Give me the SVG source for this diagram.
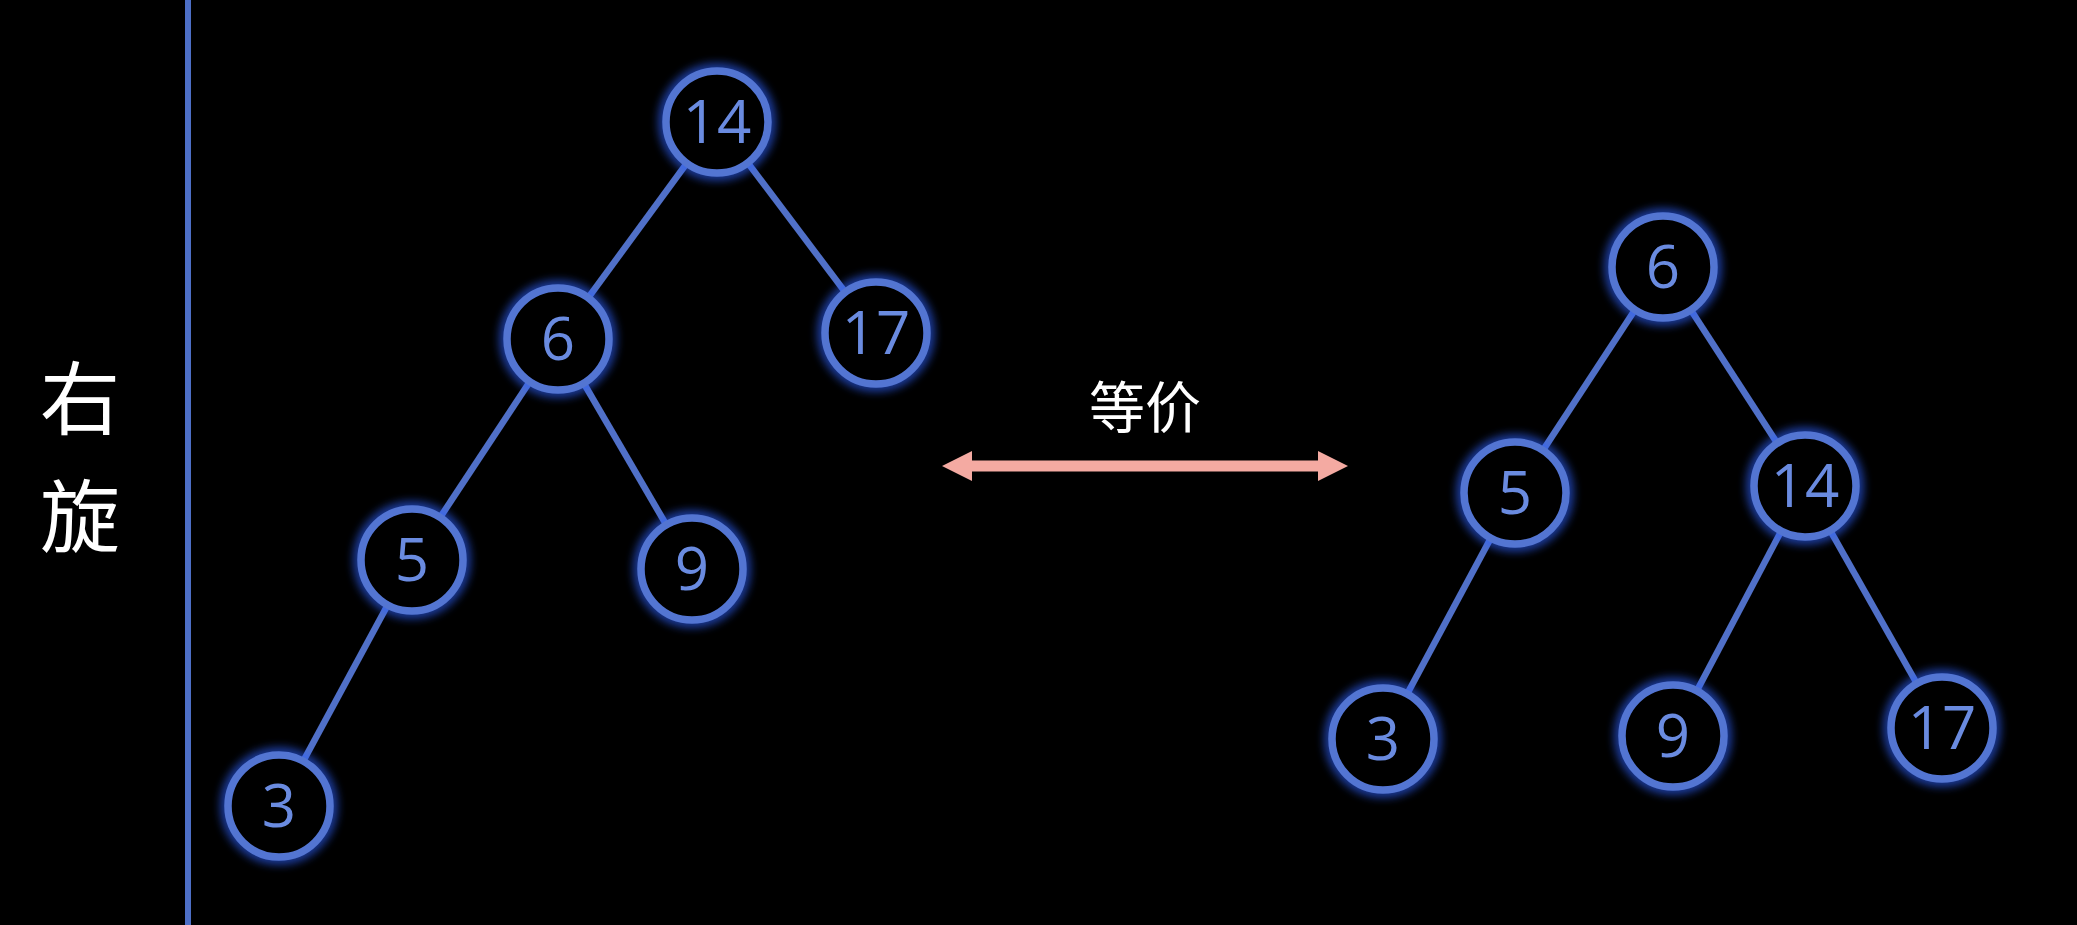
<svg xmlns="http://www.w3.org/2000/svg" width="2077" height="925" viewBox="0 0 2077 925">
<defs>
<style>
.edge{stroke:#5070c8;stroke-width:6.5;fill:none}
.ring{fill:#000;stroke:#5375d2;stroke-width:7.5}
.glow{fill:none;stroke:#2f62ff;stroke-width:16;opacity:0.6}
.num{font-family:"Open Sans",Lato,"Noto Sans",sans-serif;font-size:60px;fill:#6a8be0;text-anchor:middle}
.cjk{font-family:"Noto Sans CJK SC",sans-serif;fill:#ffffff;text-anchor:middle}
</style>
<filter id="blur" x="-50%" y="-50%" width="200%" height="200%"><feGaussianBlur stdDeviation="4.5"/></filter>
</defs>
<rect width="2077" height="925" fill="#000"/>
<line x1="188" y1="0" x2="188" y2="925" stroke="#4d6fc6" stroke-width="6"/>
<text class="cjk" x="80" y="428" font-size="80">右</text>
<text class="cjk" x="80" y="546" font-size="80">旋</text>
<g id="connectors">
<line class="edge" x1="717" y1="122" x2="558" y2="339"/>
<line class="edge" x1="717" y1="122" x2="876" y2="333"/>
<line class="edge" x1="558" y1="339" x2="412" y2="560"/>
<line class="edge" x1="558" y1="339" x2="692" y2="569"/>
<line class="edge" x1="412" y1="560" x2="279" y2="806"/>
<line class="edge" x1="1663" y1="267" x2="1515" y2="493"/>
<line class="edge" x1="1663" y1="267" x2="1805" y2="486"/>
<line class="edge" x1="1515" y1="493" x2="1383" y2="739"/>
<line class="edge" x1="1805" y1="486" x2="1673" y2="736"/>
<line class="edge" x1="1805" y1="486" x2="1942" y2="728"/>
<g id="equiv">
<path d="M962,466 H1328" stroke="#f4aaa2" stroke-width="11"/>
<path d="M942,466 L972,451 L972,481 z M1348,466 L1318,451 L1318,481 z" fill="#f4aaa2"/>
</g>
</g>
<text class="cjk" x="1145" y="428" font-size="56">等价</text>
<g id="L14"><circle class="glow" filter="url(#blur)" cx="717" cy="122" r="51"/><circle class="ring" cx="717" cy="122" r="51"/><text class="num" x="717" y="143">14</text></g>
<g id="L6"><circle class="glow" filter="url(#blur)" cx="558" cy="339" r="51"/><circle class="ring" cx="558" cy="339" r="51"/><text class="num" x="558" y="360">6</text></g>
<g id="L17"><circle class="glow" filter="url(#blur)" cx="876" cy="333" r="51"/><circle class="ring" cx="876" cy="333" r="51"/><text class="num" x="876" y="354">17</text></g>
<g id="L5"><circle class="glow" filter="url(#blur)" cx="412" cy="560" r="51"/><circle class="ring" cx="412" cy="560" r="51"/><text class="num" x="412" y="581">5</text></g>
<g id="L9"><circle class="glow" filter="url(#blur)" cx="692" cy="569" r="51"/><circle class="ring" cx="692" cy="569" r="51"/><text class="num" x="692" y="590">9</text></g>
<g id="L3"><circle class="glow" filter="url(#blur)" cx="279" cy="806" r="51"/><circle class="ring" cx="279" cy="806" r="51"/><text class="num" x="279" y="827">3</text></g>
<g id="R6"><circle class="glow" filter="url(#blur)" cx="1663" cy="267" r="51"/><circle class="ring" cx="1663" cy="267" r="51"/><text class="num" x="1663" y="288">6</text></g>
<g id="R5"><circle class="glow" filter="url(#blur)" cx="1515" cy="493" r="51"/><circle class="ring" cx="1515" cy="493" r="51"/><text class="num" x="1515" y="514">5</text></g>
<g id="R14"><circle class="glow" filter="url(#blur)" cx="1805" cy="486" r="51"/><circle class="ring" cx="1805" cy="486" r="51"/><text class="num" x="1805" y="507">14</text></g>
<g id="R3"><circle class="glow" filter="url(#blur)" cx="1383" cy="739" r="51"/><circle class="ring" cx="1383" cy="739" r="51"/><text class="num" x="1383" y="760">3</text></g>
<g id="R9"><circle class="glow" filter="url(#blur)" cx="1673" cy="736" r="51"/><circle class="ring" cx="1673" cy="736" r="51"/><text class="num" x="1673" y="757">9</text></g>
<g id="R17"><circle class="glow" filter="url(#blur)" cx="1942" cy="728" r="51"/><circle class="ring" cx="1942" cy="728" r="51"/><text class="num" x="1942" y="749">17</text></g>
</svg>
